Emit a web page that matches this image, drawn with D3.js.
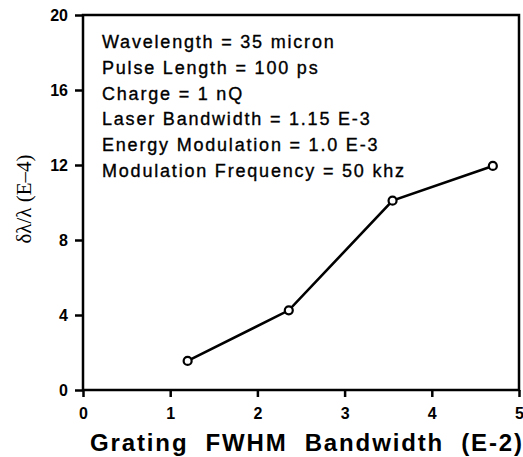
<!DOCTYPE html>
<html><head><meta charset="utf-8">
<script src="https://cdn.jsdelivr.net/npm/d3@7"></script>
<style>body{margin:0;background:#fff}</style>
</head><body>
<script>
const xValues = [1.2, 2.36, 3.55, 4.7];
const yValues = [1.55, 4.25, 10.1, 11.95];
const xTicks = [0, 1, 2, 3, 4, 5];
const yTicks = [0, 4, 8, 12, 16, 20];
const notes = ["Wavelength = 35 micron", "Pulse Length = 100 ps", "Charge = 1 nQ",
  "Laser Bandwidth = 1.15 E-3", "Energy Modulation = 1.0 E-3", "Modulation Frequency = 50 khz"];
const xTitle = "Grating  FWHM  Bandwidth  (E-2)";
const yTitle = "δλ/λ (E–4)";

const W = 523, H = 457;
const svg = d3.select("body").append("svg").attr("width", W).attr("height", H);
const m = {l: 83, r: 519, t: 15, b: 390};
const x = d3.scaleLinear().domain([0, 5]).range([m.l, m.r]);
const y = d3.scaleLinear().domain([0, 20]).range([m.b, m.t]);

svg.append("rect").attr("x", m.l).attr("y", m.t).attr("width", m.r - m.l).attr("height", m.b - m.t)
  .attr("fill", "none").attr("stroke", "#000").attr("stroke-width", 2.5);

const gx = svg.append("g").attr("transform", `translate(0,${m.b})`)
  .call(d3.axisBottom(x).tickValues(xTicks).tickFormat(d3.format("d")).tickSize(7).tickPadding(11));
const gy = svg.append("g").attr("transform", `translate(${m.l},0)`)
  .call(d3.axisLeft(y).tickValues(yTicks).tickFormat(d3.format("d")).tickSize(8).tickPadding(7));
[gx, gy].forEach(g => {
  g.select(".domain").remove();
  g.selectAll("line").attr("stroke", "#000").attr("stroke-width", 2.5);
  g.selectAll("text").attr("font-family", "Liberation Sans, Arial, sans-serif")
    .attr("font-weight", "bold").attr("font-size", 16).attr("fill", "#000");
});

const line = d3.line().x((d, i) => x(xValues[i])).y(d => y(d));
svg.append("path").datum(yValues).attr("d", line).attr("fill", "none")
  .attr("stroke", "#000").attr("stroke-width", 2.6);
svg.selectAll("circle.pt").data(yValues).enter().append("circle")
  .attr("cx", (d, i) => x(xValues[i])).attr("cy", d => y(d)).attr("r", 4)
  .attr("fill", "#fff").attr("stroke", "#000").attr("stroke-width", 2.2);

svg.append("g").selectAll("text").data(notes).enter().append("text")
  .attr("x", 102).attr("y", (d, i) => 48 + i * 25.8)
  .attr("font-family", "Liberation Sans, Arial, sans-serif").attr("font-size", 18)
  .attr("letter-spacing", 1.8).attr("fill", "#000")
  .attr("stroke", "#000").attr("stroke-width", 0.35).text(d => d);

svg.append("text").attr("x", 90).attr("y", 451)
  .attr("font-family", "Liberation Sans, Arial, sans-serif").attr("font-weight", "bold")
  .attr("font-size", 24).style("white-space", "pre")
  .attr("textLength", 432).attr("lengthAdjust", "spacing").text(xTitle);

svg.append("text").attr("transform", "translate(31,199) rotate(-90)").attr("text-anchor", "middle")
  .attr("font-family", "Liberation Serif, Times New Roman, serif").attr("font-size", 21)
  .attr("fill", "#000").text(yTitle);
</script>
</body></html>
